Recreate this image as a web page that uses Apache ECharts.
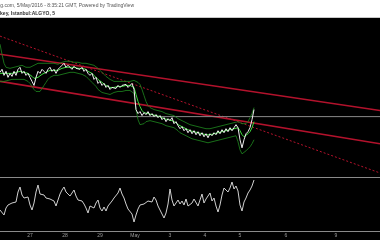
<!DOCTYPE html>
<html><head><meta charset="utf-8">
<script src="https://cdn.jsdelivr.net/npm/echarts@6/dist/echarts.min.js"></script>
<style>html,body{margin:0;padding:0;background:#000;}#c{width:380px;height:240px;}</style>
</head><body><div id="c"></div>
<script>
// Price (5-min bars, index on x), arbitrary price units
const price = [177,180,174,178,172,176,173,178,174,180,182,176,178,174,176,172,168,164,172,178,176,180,178,176,180,182,178,180,176,180,182,184,186,182,184,182,180,183,181,182,180,182,178,180,176,174,176,170,172,166,168,164,166,162,164,160,162,163,161,164,162,164,163,165,162,164,166,160,140,136,138,134,137,135,138,134,136,133,135,132,134,130,132,128,131,129,132,126,128,124,121,123,119,121,117,120,116,119,115,118,114,117,113,116,112,116,114,117,115,119,116,120,117,121,118,122,119,122,125,122,110,102,110,116,118,122,130,140];
const maMid = [176,176,176,176,176,176,176,176,177,177,178,177,177,176,176,175,173,171,171,172,173,175,176,177,178,179,179,179,179,179,180,181,182,182,183,182,182,182,182,181,181,181,180,180,178,177,176,174,173,170,169,167,166,164,164,162,162,162,162,163,163,163,163,164,163,164,164,162,155,148,143,139,137,136,136,135,135,134,134,133,133,132,131,130,130,129,129,128,127,125,124,123,122,121,120,119,118,118,117,117,116,116,115,115,114,115,115,116,116,117,117,118,118,119,119,120,120,121,122,122,119,115,113,114,116,118,122,128];
const bandUpper = [205,195,186,182,181,181,181,182,182,183,184,184,183,182,182,182,183,184,185,186,186,186,186,186,186,186,186,186,185,185,186,187,188,188,188,188,187,187,187,187,186,186,186,186,186,185,185,184,183,181,179,177,175,173,172,170,169,168,168,168,168,168,168,168,168,168,169,169,168,167,165,160,154,148,144,142,141,140,140,139,139,138,137,136,136,135,135,134,133,131,130,129,128,127,126,125,124,124,123,123,122,122,121,121,120,121,121,122,122,123,123,124,124,125,125,126,126,127,127,128,127,126,125,126,128,132,136,142];
const bandLower = [168,168,168,169,169,170,170,170,170,170,170,170,170,169,168,166,163,160,158,157,158,161,164,167,170,172,173,174,174,174,175,175,176,176,177,177,177,177,177,176,176,175,174,173,171,169,167,165,163,160,159,157,157,156,156,155,156,157,157,158,158,158,158,159,158,159,159,156,140,130,125,124,126,128,129,129,129,128,128,127,127,126,125,124,124,123,123,122,121,119,117,116,115,114,113,112,111,111,110,110,109,109,108,108,107,108,108,109,109,110,110,111,111,112,112,113,113,114,114,108,100,96,97,99,101,103,106,110];
const oscillator = [21,19,16,23,26,25,28,26,29,39,44,36,33,31,34,26,21,28,39,46,37,35,36,33,35,32,34,30,25,31,37,41,44,39,37,35,38,41,35,31,33,30,27,23,18,25,27,23,28,31,23,20,24,20,25,27,30,33,35,38,43,37,33,27,22,24,17,9,16,22,26,24,27,25,30,32,29,34,31,25,21,17,13,18,27,42,31,25,28,31,27,30,26,32,25,23,28,32,30,25,31,37,28,32,35,38,30,33,25,19,26,36,43,45,39,43,49,42,45,40,26,20,29,33,38,41,45,51];
// Trend lines: [barIndex, price] endpoints
const trendUpper = [[0,195],[190,139]];
const trendLower = [[0,168],[190,106]];
const trendDashed = [[0,213],[190,77]];
const horizontalLevel = 133;
// Time axis labels
const dayTickBars = [15,32.5,50,67.5,85,102.5,120,143,168];
const dayTickLabels = ['27','28','29','May','3','4','5','6','9'];
const headerLine1 = 'Investing.com, 5/May/2016 - 8:35:21 GMT, Powered by TradingView';
const headerLine2 = 'Alarko GYO, Turkey, Istanbul:ALGYO, 5';

const pts = a => a.map((v,i)=>[i,v]);
const chart = echarts.init(document.getElementById('c'), null, {renderer:'canvas'});
const lineBase = {type:'line', showSymbol:false, symbol:'none', animation:false, silent:true};
chart.setOption({
  backgroundColor:'#000',
  animation:false,
  graphic:[
    {type:'rect', shape:{x:0,y:0,width:380,height:18}, style:{fill:'#fff'}, z:10},
    {type:'rect', shape:{x:0,y:17,width:380,height:1}, style:{fill:'#c8c8c8'}, z:11},
    {type:'text', x:134, y:3, z:12, style:{text:headerLine1, align:'right', fill:'#555', font:'5px "Liberation Sans", Arial'}},
    {type:'text', x:55, y:11, z:12, style:{text:headerLine2, align:'right', fill:'#333', font:'bold 5px "Liberation Sans", Arial'}}
  ],
  grid:[
    {left:0,right:0,top:18,height:159},
    {left:0,right:0,top:179,height:52}
  ],
  xAxis:[
    {gridIndex:0,type:'value',min:0,max:190,axisLine:{show:true,lineStyle:{color:'#8a8a8a',width:1}},axisTick:{show:false},axisLabel:{show:false},splitLine:{show:false}},
    {gridIndex:1,type:'value',min:0,max:190,axisLine:{show:true,lineStyle:{color:'#8a8a8a',width:1}},axisTick:{show:false},splitLine:{show:false},
     axisLabel:{show:true,customValues:dayTickBars,color:'#9a9a9a',fontSize:5,margin:2,fontFamily:'Liberation Sans',
       formatter:v=>{const k=dayTickBars.indexOf(v);return k>=0?dayTickLabels[k]:'';}}}
  ],
  yAxis:[
    {gridIndex:0,type:'value',min:73,max:231,show:false,splitLine:{show:false}},
    {gridIndex:1,type:'value',min:0,max:52,show:false,splitLine:{show:false}}
  ],
  series:[
    Object.assign({},lineBase,{name:'dashed',data:trendDashed,lineStyle:{color:'#b3122c',width:1,type:[2,2]}}),
    Object.assign({},lineBase,{name:'upperTrend',data:trendUpper,lineStyle:{color:'#b3122c',width:1.6}}),
    Object.assign({},lineBase,{name:'lowerTrend',data:trendLower,lineStyle:{color:'#b3122c',width:1.6}}),
    Object.assign({},lineBase,{name:'level',data:[[0,horizontalLevel],[190,horizontalLevel]],lineStyle:{color:'#8a8a8a',width:1}}),
    Object.assign({},lineBase,{name:'bandU',data:pts(bandUpper),lineStyle:{color:'#1f8a1f',width:0.8}}),
    Object.assign({},lineBase,{name:'bandL',data:pts(bandLower),lineStyle:{color:'#1f8a1f',width:0.8}}),
    Object.assign({},lineBase,{name:'ma',data:pts(maMid),lineStyle:{color:'#3ddc3d',width:1}}),
    Object.assign({},lineBase,{name:'price',data:pts(price),lineStyle:{color:'#f0f0f0',width:1}}),
    Object.assign({},lineBase,{name:'osc',xAxisIndex:1,yAxisIndex:1,data:pts(oscillator),lineStyle:{color:'#cfcfcf',width:1}})
  ]
});
</script></body></html>
